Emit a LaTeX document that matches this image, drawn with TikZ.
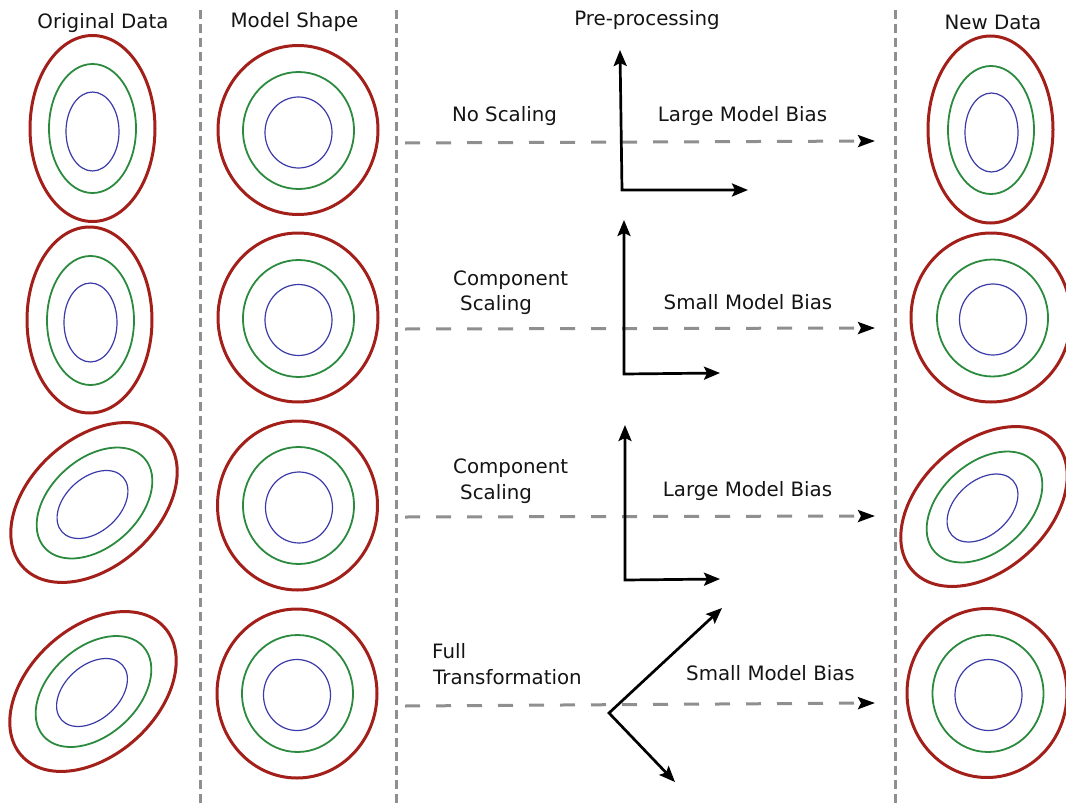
\documentclass[tikz,border=0pt]{standalone}
\usepackage{fontspec}
\setmainfont{DejaVu Sans}
\usetikzlibrary{arrows.meta}
\definecolor{cred}{HTML}{A31F1A}
\definecolor{cgreen}{HTML}{2B8A3E}
\definecolor{cblue}{HTML}{3B3BA8}
\definecolor{cgray}{HTML}{8F8F8F}
\begin{document}
\begin{tikzpicture}[x=1pt,y=-1pt,
  lbl/.style={font=\fontsize{19.8}{24}\selectfont, inner sep=0pt, text=black!92},
  rd/.style={draw=cred, line width=3pt},
  gr/.style={draw=cgreen, line width=1.8pt},
  bl/.style={draw=cblue, line width=1.2pt},
  sepline/.style={draw=cgray, line width=3pt, dash pattern=on 9pt off 5pt},
  flow/.style={draw=cgray, line width=3pt, dash pattern=on 15pt off 16pt,
    -{Stealth[length=17pt,width=12pt,inset=3pt,color=black]}},
  axis/.style={draw=black, line width=2.7pt, line join=miter,
    {Stealth[length=16pt,width=13pt,inset=3pt]}-{Stealth[length=16pt,width=13pt,inset=3pt]}}
]
\useasboundingbox (0,0) rectangle (1066,803);
\clip (0,0) rectangle (1066,803);

% ---------- Original Data ----------
\draw[rd] (92.5,128.5) ellipse [x radius=62.5, y radius=93];
\draw[gr] (92.5,128.5) ellipse [x radius=43.5, y radius=64.5];
\draw[bl] (92.5,131.5) ellipse [x radius=26.5, y radius=39.5];

\draw[rd] (89.5,320) ellipse [x radius=62.5, y radius=93];
\draw[gr] (90.5,320.5) ellipse [x radius=43.5, y radius=64.5];
\draw[bl] (90.5,322.5) ellipse [x radius=26.5, y radius=39.5];

\draw[rd, rotate around={42:(94,502.5)}] (94,502.5) ellipse [x radius=96, y radius=64];
\draw[gr, rotate around={42:(94.5,503)}] (94.5,503) ellipse [x radius=67, y radius=44];
\draw[bl, rotate around={42:(92.5,504.5)}] (92.5,504.5) ellipse [x radius=41, y radius=27];

\draw[rd, rotate around={42:(93,691.5)}] (93,691.5) ellipse [x radius=96, y radius=64];
\draw[gr, rotate around={42:(93.5,691.5)}] (93.5,691.5) ellipse [x radius=67, y radius=44];
\draw[bl, rotate around={42:(92,692.5)}] (92,692.5) ellipse [x radius=41, y radius=27];

% ---------- Model Shape ----------
\draw[rd] (298,130) ellipse [x radius=80, y radius=84.5];
\draw[gr] (298.5,130.5) ellipse [x radius=55.5, y radius=58.5];
\draw[bl] (298.5,132.5) ellipse [x radius=33.5, y radius=35.5];

\draw[rd] (298,317.5) ellipse [x radius=80, y radius=84.5];
\draw[gr] (298.5,318.5) ellipse [x radius=55.5, y radius=58.5];
\draw[bl] (298.5,320) ellipse [x radius=33.5, y radius=35.5];

\draw[rd] (297.5,505.5) ellipse [x radius=80, y radius=84.5];
\draw[gr] (298.5,505.5) ellipse [x radius=55.5, y radius=58.5];
\draw[bl] (299,507.5) ellipse [x radius=33.5, y radius=35.5];

\draw[rd] (297,693.5) ellipse [x radius=80, y radius=84.5];
\draw[gr] (297.5,693.5) ellipse [x radius=55.5, y radius=58.5];
\draw[bl] (297,695) ellipse [x radius=33.5, y radius=35.5];

% ---------- New Data ----------
\draw[rd] (990.5,129.5) ellipse [x radius=62.5, y radius=93.5];
\draw[gr] (991,130) ellipse [x radius=43, y radius=64];
\draw[bl] (991.5,132.5) ellipse [x radius=26.5, y radius=39.5];

\draw[rd] (991,317.5) ellipse [x radius=80, y radius=84.5];
\draw[gr] (992.5,318) ellipse [x radius=55.5, y radius=58.5];
\draw[bl] (993,319.5) ellipse [x radius=33.5, y radius=35.5];

\draw[rd, rotate around={42:(984,506.5)}] (984,506.5) ellipse [x radius=96, y radius=64];
\draw[gr, rotate around={42:(984.5,507)}] (984.5,507) ellipse [x radius=67, y radius=44];
\draw[bl, rotate around={42:(982.5,508)}] (982.5,508) ellipse [x radius=41, y radius=27];

\draw[rd] (987,693) ellipse [x radius=80, y radius=84.5];
\draw[gr] (988,693.5) ellipse [x radius=55.5, y radius=58.5];
\draw[bl] (988.5,695) ellipse [x radius=33.5, y radius=35.5];

% ---------- column separators ----------
\coordinate (s1t) at (200,10);  \coordinate (s1b) at (200,803);
\coordinate (s2t) at (396,10);  \coordinate (s2b) at (396,803);
\coordinate (s3t) at (895,10);  \coordinate (s3b) at (895,803);
\draw[sepline] (s1t) -- (s1b);
\draw[sepline] (s2t) -- (s2b);
\draw[sepline] (s3t) -- (s3b);

% ---------- flows ----------
\coordinate (f1a) at (405,143); \coordinate (f1b) at (875,141);
\coordinate (f2a) at (405,329); \coordinate (f2b) at (875,328);
\coordinate (f3a) at (405,517); \coordinate (f3b) at (875,516);
\coordinate (f4a) at (405,706); \coordinate (f4b) at (875,703);
\draw[flow] (f1a) -- (f1b);
\draw[flow] (f2a) -- (f2b);
\draw[flow] (f3a) -- (f3b);
\draw[flow] (f4a) -- (f4b);

% ---------- axes ----------
\coordinate (a1u) at (620,50);  \coordinate (a1o) at (622,190); \coordinate (a1r) at (748,190);
\coordinate (a2u) at (624,220); \coordinate (a2o) at (624,374); \coordinate (a2r) at (720,373);
\coordinate (a3u) at (625,425); \coordinate (a3o) at (625,580); \coordinate (a3r) at (720,579);
\coordinate (a4u) at (722,608); \coordinate (a4o) at (609,713); \coordinate (a4r) at (675,782);
\draw[axis] (a1u) -- (a1o) -- (a1r);
\draw[axis] (a2u) -- (a2o) -- (a2r);
\draw[axis] (a3u) -- (a3o) -- (a3r);
\draw[axis] (a4u) -- (a4o) -- (a4r);

% ---------- headings ----------
\node[lbl, anchor=base] (hOrig) at (103,28.5) {Original Data};
\node[lbl, anchor=base] (hModel) at (294.5,27.5) {Model Shape};
\node[lbl, anchor=base] (hPre) at (647,25) {Pre-processing};
\node[lbl, anchor=base] (hNew) at (993,29) {New Data};

% ---------- row labels ----------
\node[lbl, anchor=base] (l1a) at (504.5,121.7) {No Scaling};
\node[lbl, anchor=base] (l1b) at (742.5,121.7) {Large Model Bias};

\node[lbl, anchor=base west] (l2a) at (453,285) {Component};
\node[lbl, anchor=base west] (l2c) at (460,310) {Scaling};
\node[lbl, anchor=base] (l2b) at (748,309.3) {Small Model Bias};

\node[lbl, anchor=base west] (l3a) at (453,473.3) {Component};
\node[lbl, anchor=base west] (l3c) at (460,499.3) {Scaling};
\node[lbl, anchor=base] (l3b) at (747.5,496) {Large Model Bias};

\node[lbl, anchor=base west] (l4a) at (432,658.3) {Full};
\node[lbl, anchor=base west] (l4c) at (433,684) {Transformation};
\node[lbl, anchor=base] (l4b) at (770.5,680) {Small Model Bias};
\end{tikzpicture}
\end{document}
